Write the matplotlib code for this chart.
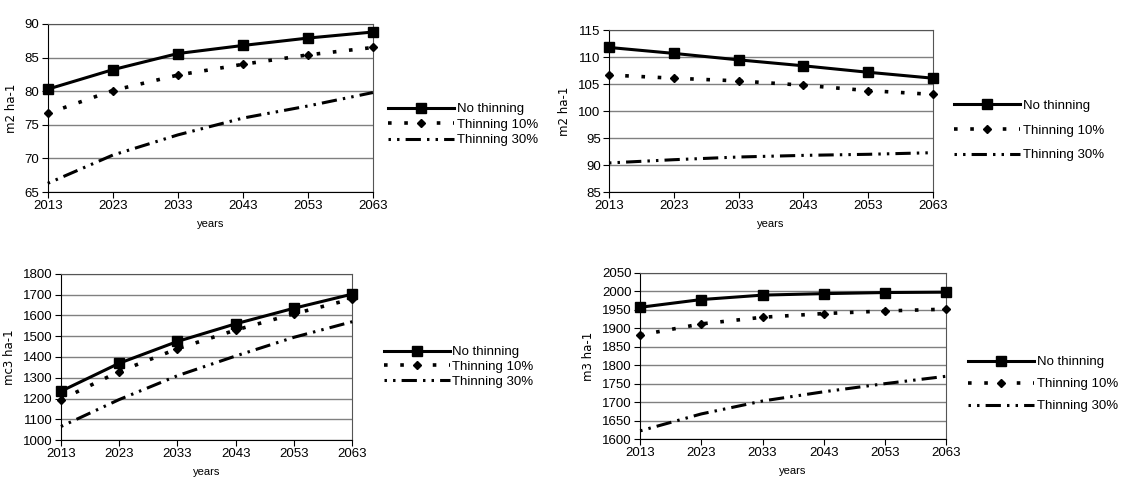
import matplotlib
matplotlib.use('Agg')
import matplotlib.pyplot as plt

plt.rcParams['font.family'] = ['Liberation Sans', 'DejaVu Sans']

years = [2013, 2023, 2033, 2043, 2053, 2063]
labels = ['No thinning', 'Thinning 10%', 'Thinning 30%']

# top-left: basal area
ba1_none = [80.3, 83.2, 85.6, 86.8, 87.9, 88.8]
ba1_10 = [76.7, 80.1, 82.4, 84.0, 85.4, 86.5]
ba1_30 = [66.3, 70.5, 73.5, 76.0, 77.8, 79.8]

# top-right: basal area
ba2_none = [111.8, 110.7, 109.5, 108.4, 107.2, 106.1]
ba2_10 = [106.7, 106.1, 105.6, 104.8, 103.8, 103.1]
ba2_30 = [90.4, 91.0, 91.5, 91.8, 92.0, 92.3]

# bottom-left: volume
v1_none = [1235, 1370, 1475, 1560, 1635, 1703]
v1_10 = [1195, 1330, 1440, 1530, 1608, 1680]
v1_30 = [1065, 1195, 1310, 1405, 1495, 1570]

# bottom-right: volume
v2_none = [1957, 1978, 1990, 1994, 1997, 1998]
v2_10 = [1882, 1912, 1930, 1940, 1947, 1952]
v2_30 = [1622, 1668, 1703, 1728, 1750, 1770]

fig = plt.figure(figsize=(11.29, 4.79), dpi=100)


def panel(rect, series, ylim, ystep, ylabel, leg_xy, spacing):
    ax = fig.add_axes(rect)
    s_none, s_10, s_30 = series
    ax.plot(years, s_none, color='black', lw=2.2, marker='s', ms=6.5,
            label=labels[0], zorder=4, clip_on=False)
    ax.plot(years, s_10, color='black', lw=2.6, ls=(0, (1, 3.5)), marker='D',
            ms=4.5, label=labels[1], zorder=4, clip_on=False)
    ax.plot(years, s_30, color='black', lw=2.2, ls=(0, (0.8, 2, 0.8, 2, 5, 2)),
            label=labels[2], zorder=4, clip_on=False)
    ax.set_xlim(2013, 2063)
    ax.set_ylim(*ylim)
    ax.set_xticks(years)
    ax.set_yticks(range(ylim[0], ylim[1] + 1, ystep))
    ax.yaxis.grid(True, color='#808080', lw=1.0)
    ax.set_axisbelow(True)
    for sp in ax.spines.values():
        sp.set_linewidth(0.8)
    ax.spines['top'].set_color('#555555')
    ax.spines['right'].set_color('#555555')
    ax.tick_params(labelsize=9.5, length=4, width=0.8, direction='out', pad=2)
    ax.set_xlabel('years', fontsize=8, labelpad=5)
    ax.set_ylabel(ylabel, fontsize=8.5, family=['DejaVu Sans'], labelpad=5)
    ax.legend(loc='center left', bbox_to_anchor=leg_xy, frameon=False,
              fontsize=9.5, handlelength=5.0, handletextpad=0.2,
              labelspacing=spacing, borderaxespad=0)
    return ax


panel([0.0423, 0.599, 0.288, 0.351], (ba1_none, ba1_10, ba1_30), (65, 90), 5,
      'm2 ha-1', (1.03, 0.40), 0.25)
panel([0.5394, 0.599, 0.287, 0.338], (ba2_none, ba2_10, ba2_30), (85, 115), 5,
      'm2 ha-1', (1.05, 0.38), 0.95)
panel([0.054, 0.0814, 0.258, 0.3466], (v1_none, v1_10, v1_30), (1000, 1800), 100,
      'mc3 ha-1', (1.09, 0.44), 0.2)
panel([0.567, 0.0835, 0.271, 0.3466], (v2_none, v2_10, v2_30), (1600, 2050), 50,
      'm3 ha-1', (1.055, 0.33), 0.75)

fig.savefig('out.png', dpi=100)
